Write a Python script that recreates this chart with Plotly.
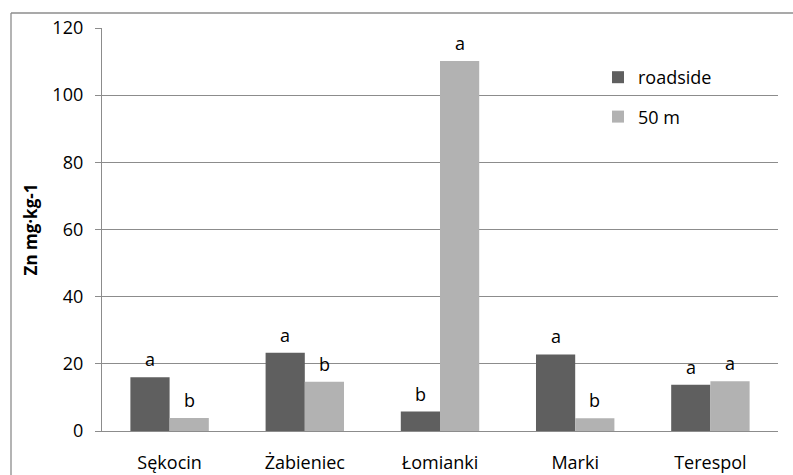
import plotly.graph_objects as go

sites = ["Sękocin", "Żabieniec", "Łomianki", "Marki", "Terespol"]
roadside = [16.0, 23.3, 5.8, 22.8, 13.8]
m50 = [3.9, 14.7, 110.2, 3.8, 14.8]
letters_roadside = ["a", "a", "b", "a", "a"]
letters_m50 = ["b", "b", "a", "b", "a"]
y_ticks = [0, 20, 40, 60, 80, 100, 120]

FONT = "Open Sans"
FS = 18
L, R, T, B = 102, 15, 28, 44
W, H = 793, 475
pw, ph = W - L - R, H - T - B
bargap = 0.42
bar_w = pw / len(sites) * (1 - bargap) / 2
GRID = "#8c8c8c"

fig = go.Figure()
fig.add_trace(go.Bar(x=sites, y=roadside, name="roadside", marker_color="#5f5f5f",
                     marker_line_width=0, legendgroup="g1"))
fig.add_trace(go.Bar(x=sites, y=m50, name="50 m", marker_color="#b2b2b2",
                     marker_line_width=0, legendgroup="g2"))

for s, v, t in zip(sites, roadside, letters_roadside):
    fig.add_annotation(x=s, y=v, text=t, showarrow=False, xshift=-bar_w / 2, yshift=18,
                       yanchor="middle", font=dict(family=FONT, size=FS, color="#000"))
for s, v, t in zip(sites, m50, letters_m50):
    fig.add_annotation(x=s, y=v, text=t, showarrow=False, xshift=bar_w / 2, yshift=18,
                       yanchor="middle", font=dict(family=FONT, size=FS, color="#000"))

# outer chart border (top and left visible)
x0 = (11 - L) / pw
y0 = 1 + (T - 13) / ph
fig.add_shape(type="line", xref="paper", yref="paper", x0=x0, x1=x0, y0=-0.3, y1=y0,
              line=dict(color=GRID, width=1.3), layer="above")
fig.add_shape(type="line", xref="paper", yref="paper", x0=x0, x1=1.2, y0=y0, y1=y0,
              line=dict(color=GRID, width=1.3), layer="above")
# white legend box area (covers gridlines behind the legend)
fig.add_shape(type="rect", xref="paper", yref="paper",
              x0=(592 - L) / pw, x1=(738 - L) / pw,
              y0=(H - B - 140) / ph, y1=(H - B - 55) / ph,
              fillcolor="white", line_width=0, layer="between")

fig.update_layout(
    width=W, height=H,
    margin=dict(l=L, r=R, t=T, b=B, autoexpand=False),
    paper_bgcolor="white", plot_bgcolor="white",
    barmode="group", bargap=bargap, bargroupgap=0,
    font=dict(family=FONT, size=FS, color="#000"),
    showlegend=True,
    legend=dict(x=(598 - L) / pw, xanchor="left", y=(H - B - 59) / ph, yanchor="top",
                bgcolor="rgba(255,255,255,0)", traceorder="grouped", tracegroupgap=13,
                font=dict(family=FONT, size=FS)),
    xaxis=dict(showline=True, linecolor=GRID, linewidth=1.3, ticks="outside",
               ticklen=15, tickcolor="rgba(0,0,0,0)", showgrid=False, automargin=False,
               tickfont=dict(family=FONT, size=FS)),
    yaxis=dict(range=[0, 120], tickvals=y_ticks, showgrid=True, gridcolor=GRID,
               gridwidth=1.3, showline=True, linecolor=GRID, linewidth=1.3,
               ticks="outside", ticklen=6, tickcolor=GRID, ticklabelstandoff=8,
               zeroline=False, tickfont=dict(family=FONT, size=FS), automargin=False,
               title=dict(text="<b>Zn mg·kg-1</b>", font=dict(family=FONT, size=17), standoff=10)),
)

fig.write_html("out.html", config={"displayModeBar": False},
               post_script="document.body.style.margin='0';document.body.style.overflow='hidden';")
